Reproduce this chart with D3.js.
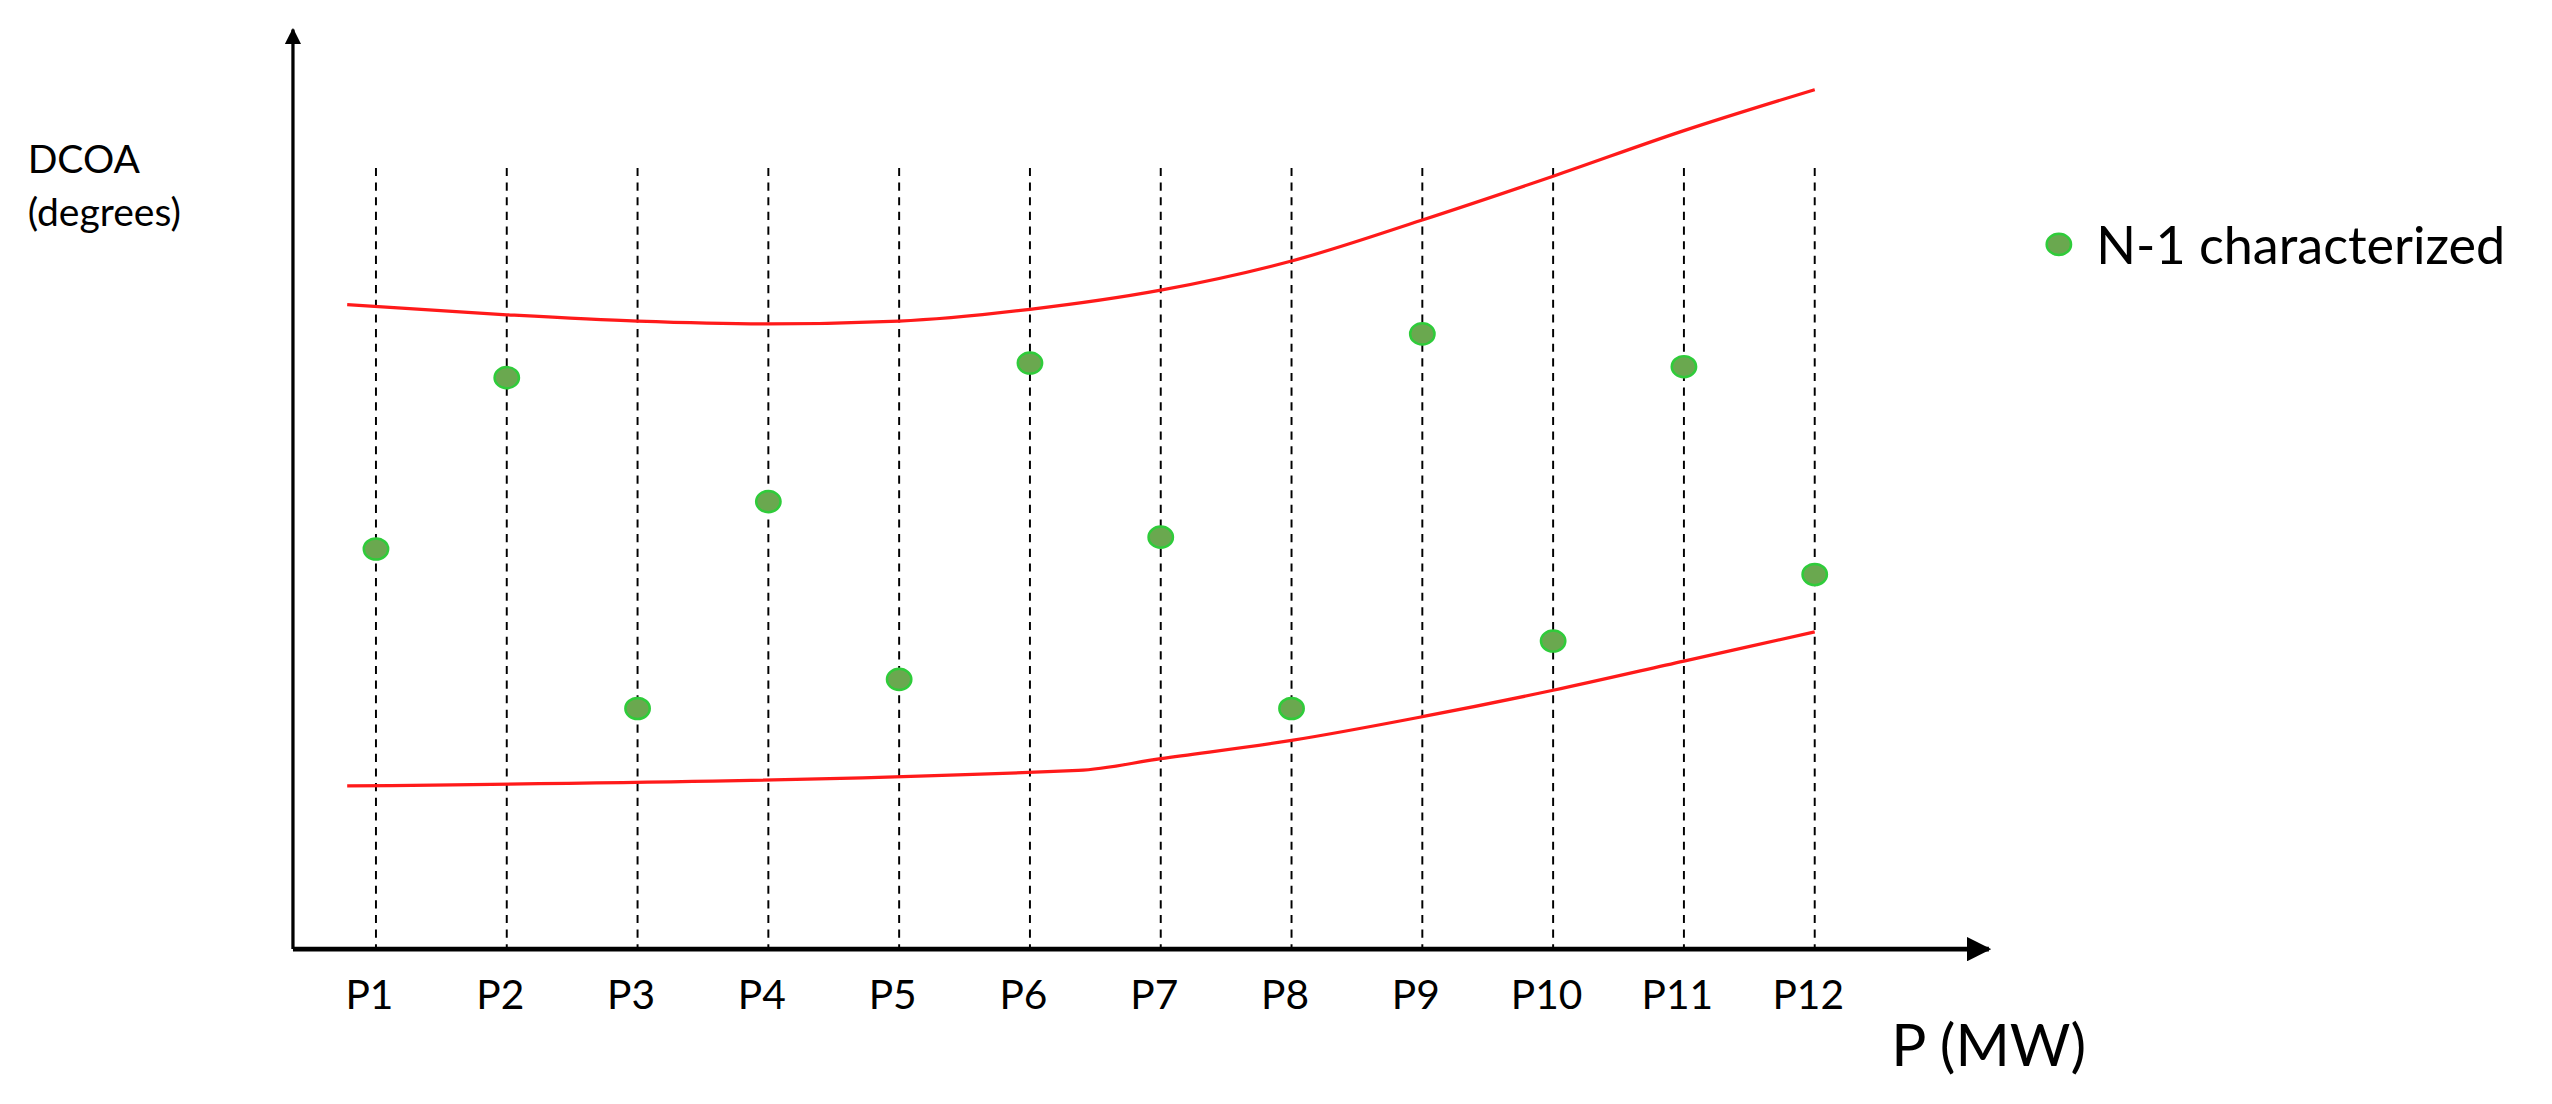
<!DOCTYPE html>
<html>
<head>
<meta charset="utf-8">
<script src="https://cdn.jsdelivr.net/npm/d3@7"></script>
<style>
  html, body { margin: 0; padding: 0; background: #fff; overflow: hidden; }
  text { font-family: Lato, "Open Sans", sans-serif; fill: #000; }
</style>
</head>
<body>
<div id="chart"></div>
<script>
// categories (P index) and values
const categories = ["P1","P2","P3","P4","P5","P6","P7","P8","P9","P10","P11","P12"];
const dcoaValues = [43.9, 62.7, 26.4, 49.1, 29.6, 64.3, 45.2, 26.4, 67.5, 33.8, 63.9, 41.1];

// red boundary curves: [position index, value]
const upperX = [0.78, 2, 3, 4, 5, 6, 7, 8, 9, 10, 11, 12];
const upperY = [70.7, 69.6, 68.9, 68.6, 68.9, 70.2, 72.3, 75.5, 80, 84.8, 89.8, 94.3];
const lowerX = [0.78, 6.37, 7, 8, 9, 10, 11, 12];
const lowerY = [17.9, 19.6, 20.9, 22.9, 25.5, 28.4, 31.6, 34.8];

const legendLabel = "N-1 characterized";

// drawn in a 1568 x 678 viewBox, scaled to the window
const W = 1568, H = 678;

const svg = d3.select("#chart").append("svg")
  .attr("width", 2552).attr("height", 1104)
  .attr("viewBox", `0 0 ${W} ${H}`);

const x = d3.scaleLinear().domain([1, 12]).range([231, 1115]);
const y = d3.scaleLinear().domain([0, 100]).range([583, 23]);

// arrow marker
svg.append("defs").append("marker")
  .attr("id", "arrow").attr("viewBox", "0 0 10 10")
  .attr("refX", 9).attr("refY", 5)
  .attr("markerWidth", 5).attr("markerHeight", 5)
  .attr("orient", "auto-start-reverse")
  .append("path").attr("d", "M0,0 L10,5 L0,10 z").attr("fill", "#000");

// dashed verticals
svg.selectAll(".grid").data(categories).join("line")
  .attr("x1", (d, i) => x(i + 1)).attr("x2", (d, i) => x(i + 1))
  .attr("y1", 103).attr("y2", y(0))
  .attr("stroke", "#000").attr("stroke-width", 1.2)
  .attr("stroke-dasharray", "5,4");

// axes
svg.append("line").attr("x1", 180).attr("y1", y(0)).attr("x2", 1222).attr("y2", y(0))
  .attr("stroke", "#000").attr("stroke-width", 3).attr("marker-end", "url(#arrow)");
svg.append("line").attr("x1", 180).attr("y1", y(0)).attr("x2", 180).attr("y2", 18)
  .attr("stroke", "#000").attr("stroke-width", 2).attr("marker-end", "url(#arrow)");

// tick labels
svg.selectAll(".tick").data(categories).join("text")
  .attr("x", (d, i) => x(i + 1) - 4).attr("y", 620)
  .attr("text-anchor", "middle").attr("font-size", 25)
  .text(d => d);

// axis titles
svg.append("text").attr("x", 1162).attr("y", 655).attr("font-size", 36).text("P (MW)");
svg.append("text").attr("x", 17).attr("y", 106).attr("font-size", 24).text("DCOA");
svg.append("text").attr("x", 17).attr("y", 139).attr("font-size", 24).text("(degrees)");

// red curves
const line = d3.line().x(d => x(d[0])).y(d => y(d[1])).curve(d3.curveMonotoneX);
svg.append("path").datum(d3.zip(upperX, upperY)).attr("d", line)
  .attr("fill", "none").attr("stroke", "#ff1a1a").attr("stroke-width", 2);
svg.append("path").datum(d3.zip(lowerX, lowerY)).attr("d", line)
  .attr("fill", "none").attr("stroke", "#ff1a1a").attr("stroke-width", 2);

// points
svg.selectAll(".pt").data(dcoaValues).join("ellipse")
  .attr("cx", (d, i) => x(i + 1)).attr("cy", d => y(d))
  .attr("rx", 7.5).attr("ry", 6.5)
  .attr("fill", "#6aa84f").attr("stroke", "#2fcc3a").attr("stroke-width", 1.5);

// legend
svg.append("ellipse").attr("cx", 1265).attr("cy", 150).attr("rx", 7.5).attr("ry", 6.5)
  .attr("fill", "#6aa84f").attr("stroke", "#2fcc3a").attr("stroke-width", 1.5);
svg.append("text").attr("x", 1288).attr("y", 162).attr("font-size", 32).text(legendLabel);
</script>
</body>
</html>
